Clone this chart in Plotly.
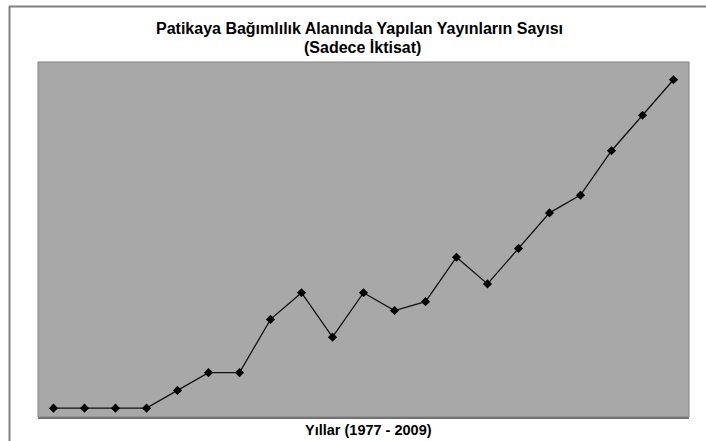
import plotly.graph_objects as go

points = [f"P{i}" for i in range(1, 22)]
counts = [1, 1, 1, 1, 3, 5, 5, 11, 14, 9, 14, 12, 13, 18, 15, 19, 23, 25, 30, 34, 38]

title_line1 = "Patikaya Bağımlılık Alanında Yapılan Yayınların Sayısı"
title_line2 = "(Sadece İktisat)"
x_title = "Yıllar (1977 - 2009)"

W, H = 706, 441
L, R, T, B = 38, 17, 62, 24
ph = H - T - B
pw = W - L - R

def py(ypix):
    return (H - B - ypix) / ph

def px(xpix):
    return (xpix - L) / pw

fig = go.Figure()
fig.add_trace(go.Scatter(
    x=points, y=counts, mode="lines+markers",
    line=dict(color="#111111", width=1.3),
    marker=dict(symbol="diamond", size=7, color="#000000"),
    showlegend=False, hoverinfo="skip"))

font = "Liberation Sans, Arial, sans-serif"
fig.update_layout(
    width=W, height=H,
    margin=dict(l=L, r=R, t=T, b=B, pad=0),
    paper_bgcolor="#ffffff",
    plot_bgcolor="#a8a8a8",
    xaxis=dict(type="category", range=[-0.5, 20.5], showticklabels=False,
               ticks="", showgrid=False, zeroline=False,
               showline=True, linecolor="#6e6e6e", linewidth=2, mirror=False),
    yaxis=dict(range=[0, 40], showticklabels=False, ticks="", showgrid=False,
               zeroline=False, showline=False),
    annotations=[
        dict(text="<b>%s</b>" % title_line1, xref="paper", yref="paper",
             x=px(359), y=py(28.5), xanchor="center", yanchor="middle",
             borderpad=0,
             showarrow=False, font=dict(family=font, size=16, color="#000")),
        dict(text="<b>%s</b>" % title_line2, xref="paper", yref="paper",
             x=px(362), y=py(47), xanchor="center", yanchor="middle",
             borderpad=0,
             showarrow=False, font=dict(family=font, size=16, color="#000")),
        dict(text="<b>%s</b>" % x_title, xref="paper", yref="paper",
             x=px(368), y=py(429.5), xanchor="center", yanchor="middle",
             showarrow=False, font=dict(family=font, size=14.5, color="#000")),
    ],
    shapes=[
        # plot area border
        dict(type="rect", xref="paper", yref="paper", x0=0, y0=0, x1=1, y1=1,
             line=dict(color="#808080", width=1), layer="above"),
        # chart area border (top and left)
        dict(type="line", xref="paper", yref="paper", x0=px(9), x1=px(706),
             y0=py(6.5), y1=py(6.5), line=dict(color="#808080", width=2)),
        dict(type="line", xref="paper", yref="paper", x0=px(9.5), x1=px(9.5),
             y0=py(6), y1=py(441), line=dict(color="#808080", width=2)),
    ],
)

fig.write_html("out.html", config={"displayModeBar": False},
               post_script="document.body.style.margin='0';document.body.style.overflow='hidden';")
